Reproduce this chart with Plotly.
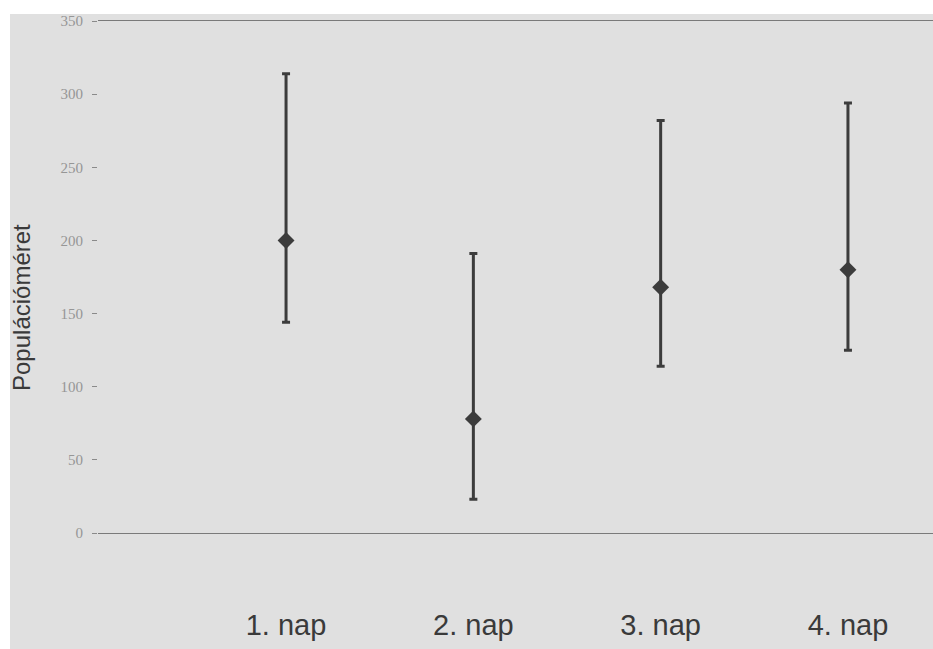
import plotly.graph_objects as go

# Population size estimates per day, with lower/upper confidence limits
days = ["1. nap", "2. nap", "3. nap", "4. nap"]
day_pos = [1, 2, 3, 4]
estimate = [200, 78, 168, 180]
upper_limit = [314, 191, 282, 294]
lower_limit = [144, 23, 114, 125]

y_ticks = [0, 50, 100, 150, 200, 250, 300, 350]

err_plus = [u - m for u, m in zip(upper_limit, estimate)]
err_minus = [m - l for m, l in zip(estimate, lower_limit)]

W, H = 933, 649
L, R, T, B = 98, 0, 21, 116

fig = go.Figure()
fig.add_trace(go.Scatter(
    x=day_pos,
    y=estimate,
    mode="markers",
    marker=dict(symbol="diamond", size=13, color="#3c3c3c"),
    error_y=dict(
        type="data",
        symmetric=False,
        array=err_plus,
        arrayminus=err_minus,
        color="#3c3c3c",
        thickness=3,
        width=4,
    ),
    showlegend=False,
))

# helpers converting page pixels to paper fractions
pw = W - L - R
ph = H - T - B
def px_to_paper_x(px):
    return (px - L) / pw
def px_to_paper_y(py):
    return (H - B - py) / ph

fig.update_layout(
    width=W,
    height=H,
    margin=dict(l=L, r=R, t=T, b=B, pad=0),
    paper_bgcolor="#e0e0e0",
    plot_bgcolor="#e0e0e0",
    shapes=[
        # white border strips along the top and left edges
        dict(type="rect", xref="paper", yref="paper", layer="below",
             x0=px_to_paper_x(0), x1=px_to_paper_x(W),
             y0=px_to_paper_y(14), y1=px_to_paper_y(0),
             fillcolor="white", line=dict(width=0)),
        dict(type="rect", xref="paper", yref="paper", layer="below",
             x0=px_to_paper_x(0), x1=px_to_paper_x(10),
             y0=px_to_paper_y(H), y1=px_to_paper_y(0),
             fillcolor="white", line=dict(width=0)),
    ],
    annotations=[
        dict(text="Populációméret", textangle=-90, showarrow=False,
             xref="paper", yref="paper",
             x=px_to_paper_x(21), y=px_to_paper_y(308),
             xanchor="center", yanchor="middle",
             font=dict(family="Liberation Sans, Arial, sans-serif", size=24, color="#3a3a3a")),
    ],
    xaxis=dict(
        range=[-0.004, 4.454],
        tickvals=day_pos,
        ticktext=days,
        showgrid=False,
        zeroline=False,
        showline=True,
        mirror=True,
        linecolor="#7a7a7a",
        linewidth=1,
        ticks="",
        ticklabelstandoff=66,
        tickfont=dict(family="Liberation Sans, Arial, sans-serif", size=29, color="#3a3a3a"),
    ),
    yaxis=dict(
        range=[0, 350],
        tickvals=y_ticks,
        ticktext=[str(v) for v in y_ticks],
        showgrid=False,
        zeroline=False,
        showline=False,
        ticks="outside",
        ticklen=5,
        tickcolor="#8a8a8a",
        tickwidth=1,
        ticklabelstandoff=6,
        tickfont=dict(family="Liberation Serif, Times New Roman, serif", size=15, color="#969696"),
    ),
)

fig.write_html("out.html")
